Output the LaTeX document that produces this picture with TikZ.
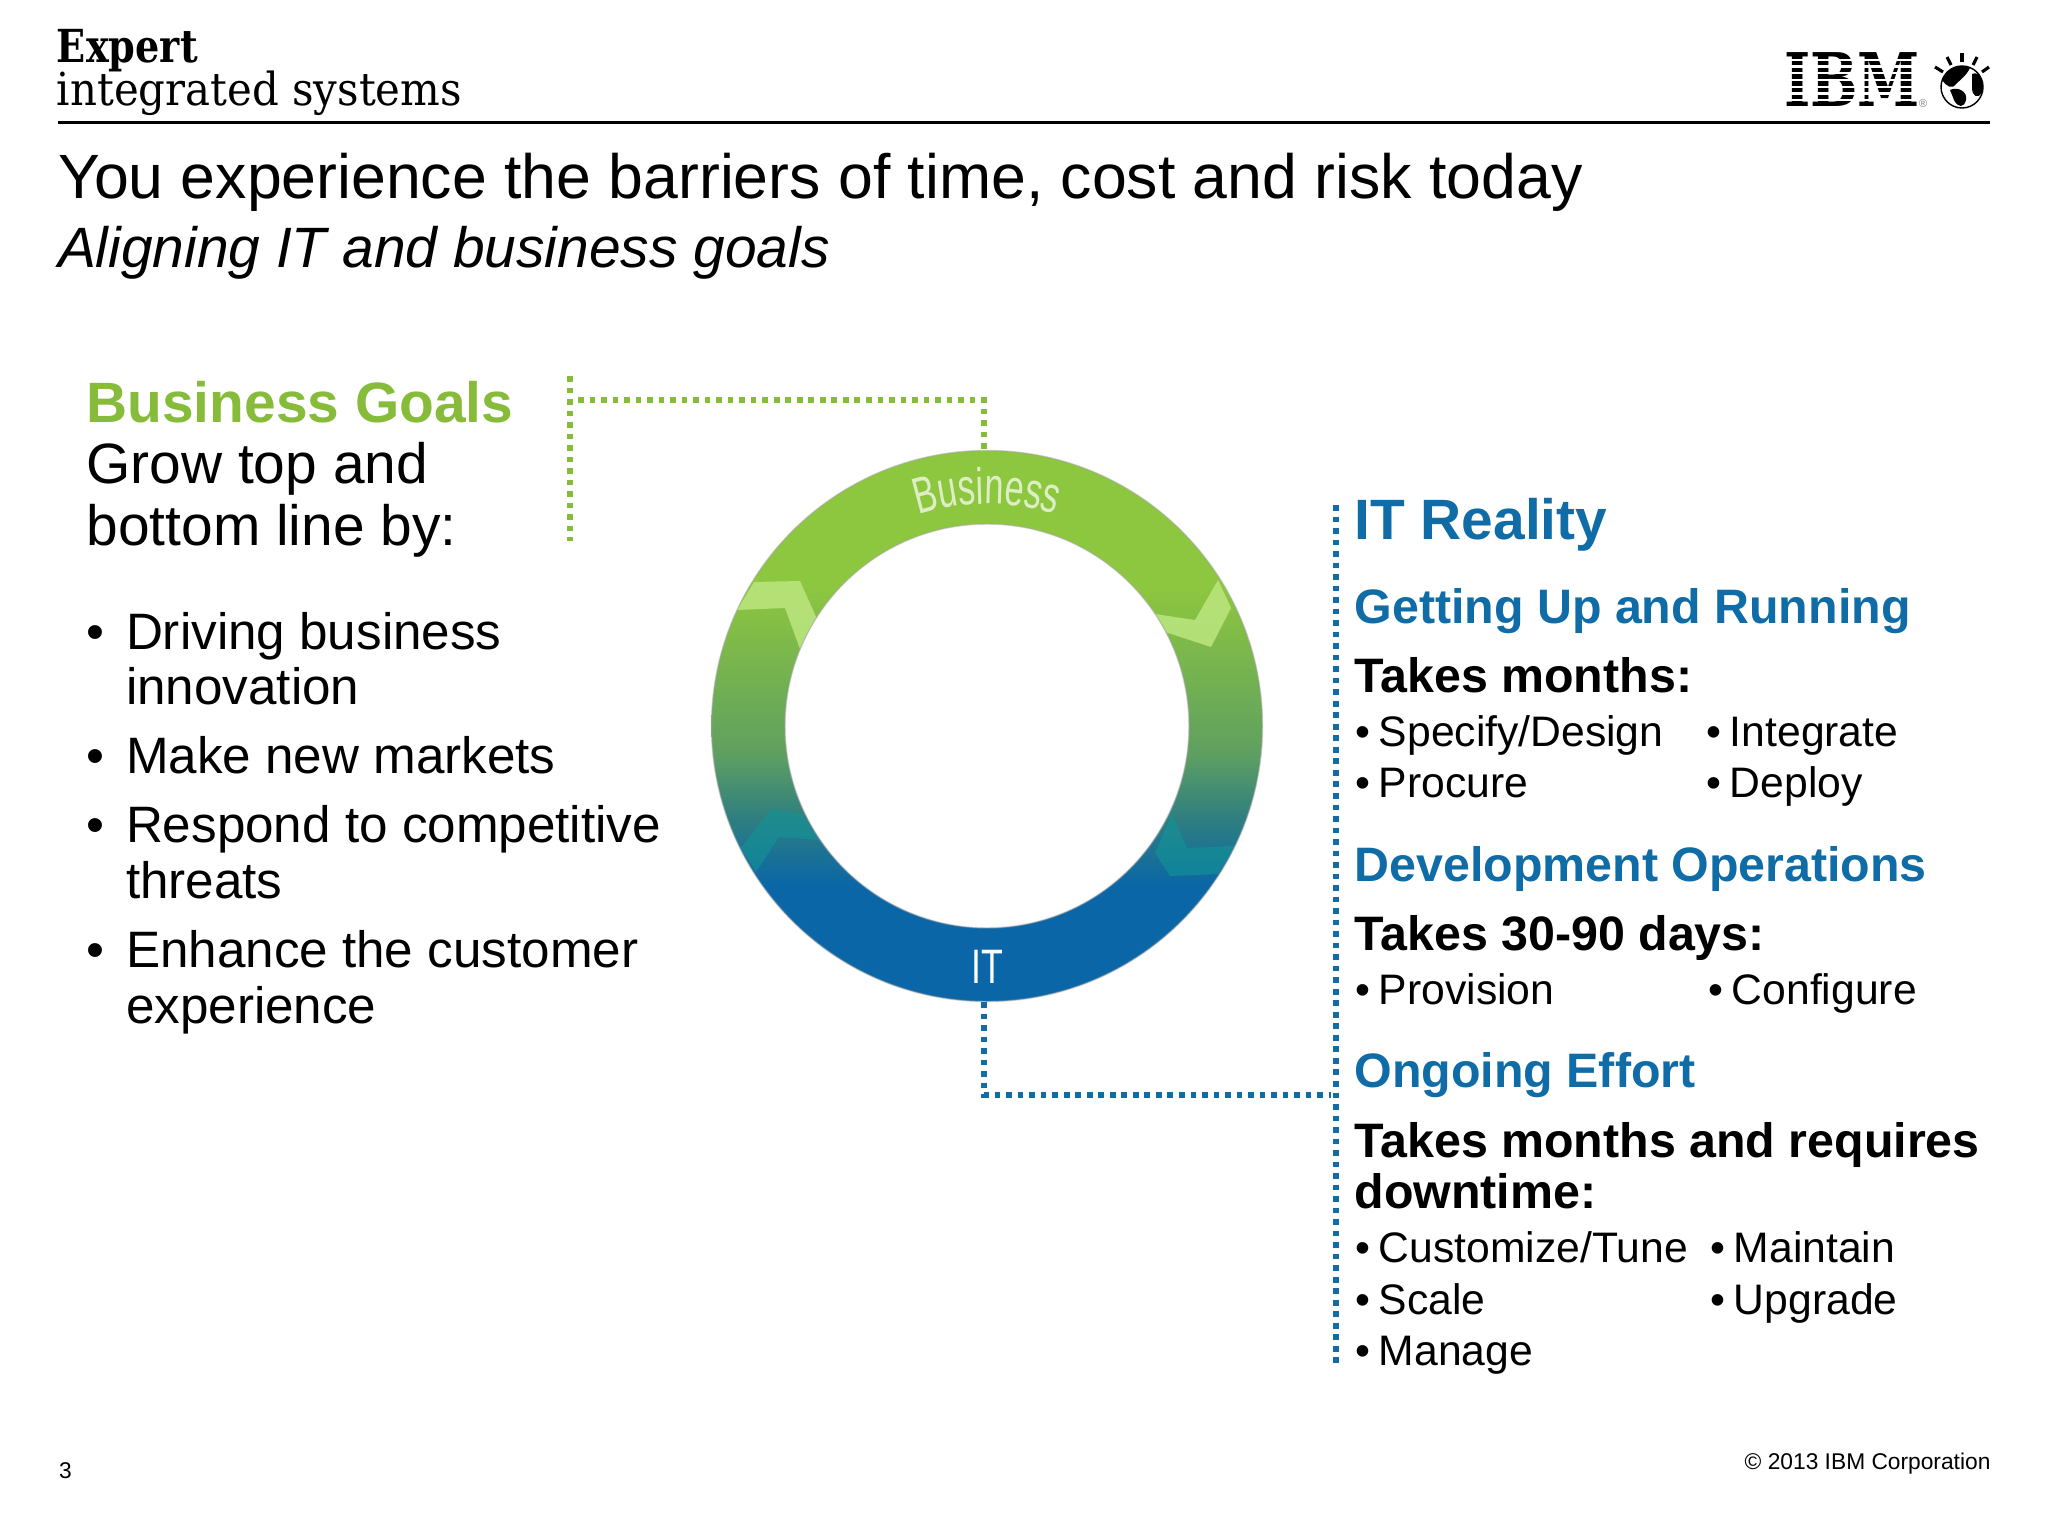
\documentclass[tikz,border=0pt]{standalone}
\usepackage{fontspec}
\usetikzlibrary{decorations.text}
\setmainfont{Liberation Sans}
\newfontfamily\slabfont{DejaVu Serif}
\newfontfamily\narrowfont[FakeStretch=0.74]{Liberation Sans}
\newfontfamily\tightfont[FakeStretch=0.67]{Liberation Sans}
\definecolor{goalgreen}{HTML}{86BC3A}
\definecolor{itblue}{HTML}{0F6CA6}
\definecolor{ringgreen}{HTML}{8DC63F}
\definecolor{ringmid}{HTML}{5FA060}
\definecolor{ringteal}{HTML}{2F7F80}
\definecolor{ringblue}{HTML}{0A66A6}
\definecolor{chevlight}{HTML}{BCE680}
\definecolor{chevteal}{HTML}{129497}
\pgfdeclareverticalshading{ringshade}{100bp}{color(0bp)=(ringblue); color(35.5bp)=(ringblue); color(41.7bp)=(ringteal); color(47.6bp)=(ringmid); color(62.5bp)=(ringgreen); color(100bp)=(ringgreen)}
\tikzset{
  txt/.style={anchor=base west,inner sep=0pt,outer sep=0pt},
  titletxt/.style={txt,font=\fontsize{22}{26}\selectfont},
  subtxt/.style={txt,font=\fontsize{20}{24}\selectfont\itshape},
  head/.style={txt,font=\fontsize{20}{24}\selectfont\bfseries},
  goalbody/.style={txt,font=\fontsize{20}{24}\selectfont},
  bigbullet/.style={txt,font=\fontsize{18}{22}\selectfont},
  subhead/.style={txt,font=\fontsize{17}{20}\selectfont\bfseries,text=itblue},
  takes/.style={txt,font=\fontsize{17}{20}\selectfont\bfseries},
  smallbullet/.style={txt,font=\fontsize{15}{18}\selectfont},
  dotline/.style={line width=2pt,dash pattern=on 2pt off 2.05pt},
}
\newcommand{\smb}[1]{\makebox[8.4pt][l]{•}#1}
\newcommand{\bgb}[1]{\makebox[13.9pt][l]{•}#1}
\begin{document}
\begin{tikzpicture}[x=0.3515625pt,y=-0.3515625pt]
\useasboundingbox (0,0) rectangle (2048,1536);
% header
\node[txt,xscale=.84,font=\slabfont\fontsize{16}{18}\selectfont\bfseries] (expert) at (57,63) {Expert};
\node[txt,xscale=.92,font=\slabfont\fontsize{16}{18}\selectfont] (integrated) at (57,106) {integrated systems};
\coordinate (ruleL) at (58,123);
\coordinate (ruleR) at (1990,123);
\draw[line width=1.05pt] (ruleL) -- (ruleR);
% IBM logo
\node[anchor=base,inner sep=0pt,xscale=.76,font=\slabfont\fontsize{26}{26}\selectfont\bfseries] (ibm) at (1852,107) {IBM};
\foreach \k in {1,...,7} \draw[white,line width=.8pt] (1780,53+6.75*\k) -- (1922,53+6.75*\k);
\node[inner sep=0pt,text=gray,font=\fontsize{4}{4}\selectfont] (ibmr) at (1923,104) {®};
\begin{scope}[line width=1.1pt]
\draw (1962,53) -- (1962,62);
\draw (1947,57) -- (1951,65);
\draw (1977,57) -- (1973,65);
\draw (1935,67) -- (1943,72);
\draw (1989,67) -- (1982,72);
\end{scope}
\draw[line width=.5pt] (1962,87) circle[radius=21];
\begin{scope}
\clip (1962,87) circle[radius=21];
\fill (1942,80) .. controls (1946,66) and (1962,62) .. (1970,68) .. controls (1966,76) and (1960,80) .. (1956,84) .. controls (1952,90) and (1946,86) .. (1942,80) -- cycle;
\fill (1950,90) .. controls (1958,86) and (1968,92) .. (1966,100) .. controls (1964,108) and (1958,108) .. (1954,100) -- cycle;
\fill (1972,74) .. controls (1980,70) and (1986,84) .. (1982,92) .. controls (1978,100) and (1972,96) .. (1972,88) -- cycle;
\end{scope}
% titles
\node[titletxt] (title) at (58,199) {You experience the barriers of time, cost and risk today};
\node[subtxt] (subtitle) at (58,268) {Aligning IT and business goals};
% left column
\node[head,text=goalgreen] (goals) at (86.5,423) {Business Goals};
\node[goalbody] (grow1) at (86.5,484) {Grow top and};
\node[goalbody] (grow2) at (86.5,546) {bottom line by:};
\node[bigbullet] (l1) at (86.5,649.5) {\bgb{Driving business}};
\node[bigbullet] (l1b) at (126,704) {innovation};
\node[bigbullet] (l2) at (86.5,773) {\bgb{Make new markets}};
\node[bigbullet] (l3) at (86.5,842) {\bgb{Respond to competitive}};
\node[bigbullet] (l3b) at (126,898) {threats};
\node[bigbullet] (l4) at (86.5,967) {\bgb{Enhance the customer}};
\node[bigbullet] (l4b) at (126,1023) {experience};
% ring
\coordinate (ringc) at (987,726);
\path[even odd rule,shade,shading=ringshade] (ringc) circle[radius=275.5] (ringc) circle[radius=202];
\begin{scope}[even odd rule,xshift=-1.05pt]
\clip (ringc) circle[radius=275.5] (ringc) circle[radius=202];
\fill[fill=chevlight,opacity=.85] (757,582) -- (803,581) -- (820,619) -- (803,649) -- (788,608) -- (740,610) -- cycle;
\fill[fill=chevlight,opacity=.85] (1221,580) -- (1234,608) -- (1214,647) -- (1162,630) -- (1158,614) -- (1198,620) -- cycle;
\fill[fill=chevteal,opacity=.6] (774,809) -- (805,814) -- (822,840) -- (782,837) -- (759,872) -- (744,848) -- cycle;
\fill[fill=chevteal,opacity=.6] (1175,814) -- (1190,848) -- (1238,846) -- (1221,874) -- (1173,876) -- (1158,853) -- cycle;
\end{scope}
\draw[black!35,opacity=.5,line width=.5pt] (ringc) circle[radius=275.5] (ringc) circle[radius=202];
\path[decorate,decoration={text along path,text align=center,text={|\tightfont\fontsize{18}{18}\selectfont\color{ringgreen!30!white}|Business}}] (ringc) ++(-120:222) arc[start angle=-120,end angle=-60,radius=222];
\node[inner sep=0pt,text=white,font=\narrowfont\fontsize{17}{17}\selectfont,anchor=base] (itlabel) at (987,983) {IT};
% connectors
\coordinate (gbarT) at (570,376);
\coordinate (gbarB) at (570,541);
\coordinate (gbarJ) at (578,400);
\coordinate (gcorner) at (984,400);
\coordinate (bbarT) at (1336,505);
\coordinate (bbarB) at (1336,1365);
\coordinate (bbarJ) at (1331,1095);
\coordinate (bcorner) at (984,1095);
\coordinate (ringtopC) at (984,450);
\coordinate (ringbotC) at (984,1002);
\draw[dotline,goalgreen] (gbarT) -- (gbarB);
\draw[dotline,goalgreen] (gbarJ) -- (gcorner) -- (ringtopC);
\draw[dotline,itblue] (bbarT) -- (bbarB);
\draw[dotline,itblue] (ringbotC) -- (bcorner) -- (bbarJ);
% right column
\node[head,text=itblue] (it) at (1354.5,540) {IT Reality};
\node[subhead] (s1) at (1354.5,624) {Getting Up and Running};
\node[takes] (t1) at (1354.5,692.5) {Takes months:};
\node[smallbullet] (a1) at (1355,746) {\smb{Specify/Design}};
\node[smallbullet] (a2) at (1706,746) {\smb{Integrate}};
\node[smallbullet] (a3) at (1355,797) {\smb{Procure}};
\node[smallbullet] (a4) at (1706,797) {\smb{Deploy}};
\node[subhead] (s2) at (1354.5,881) {Development Operations};
\node[takes] (t2) at (1354.5,950) {Takes 30-90 days:};
\node[smallbullet] (b1) at (1355,1004) {\smb{Provision}};
\node[smallbullet] (b2) at (1708,1004) {\smb{Configure}};
\node[subhead] (s3) at (1354.5,1087) {Ongoing Effort};
\node[takes] (t3) at (1354.5,1157) {Takes months and requires};
\node[takes] (t3b) at (1354.5,1208) {downtime:};
\node[smallbullet] (c1) at (1355,1262) {\smb{Customize/Tune}};
\node[smallbullet] (c2) at (1710,1262) {\smb{Maintain}};
\node[smallbullet] (c3) at (1355,1314) {\smb{Scale}};
\node[smallbullet] (c4) at (1710,1314) {\smb{Upgrade}};
\node[smallbullet] (c5) at (1355,1365) {\smb{Manage}};
% footer
\node[txt,font=\fontsize{8}{10}\selectfont] (page) at (59,1478) {3};
\node[anchor=base east,inner sep=0pt,font=\fontsize{8}{10}\selectfont] (copy) at (1991,1469) {© 2013 IBM Corporation};
\end{tikzpicture}
\end{document}
